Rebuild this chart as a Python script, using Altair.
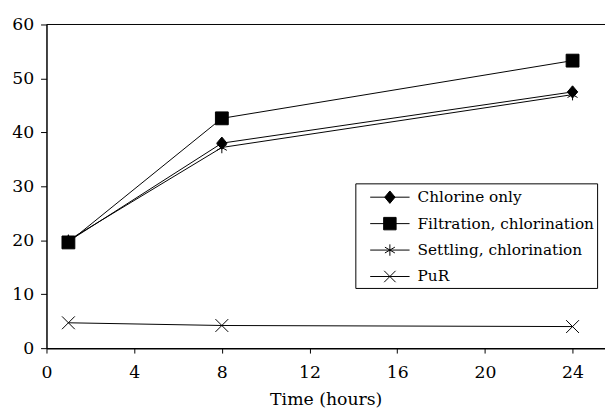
import altair as alt
import pandas as pd

# ---- data ----
series = ["Chlorine only", "Filtration, chlorination", "Settling, chlorination", "PuR"]
hours = [1, 8, 24]
chlorine_only = [19.8, 38.0, 47.5]
filtration_chlorination = [19.6, 42.6, 53.3]
settling_chlorination = [20.0, 37.2, 47.0]
pur = [4.7, 4.2, 4.0]
x_ticks = [0, 4, 8, 12, 16, 20, 24]
y_ticks = [0, 10, 20, 30, 40, 50, 60]

values = [chlorine_only, filtration_chlorination, settling_chlorination, pur]
rows = []
for s, vals in zip(series, values):
    for h, v in zip(hours, vals):
        rows.append({"series": s, "hours": h, "value": v})
df = pd.DataFrame(rows)

FONT = "DejaVu Serif"
FS = 17.5
FS_LEG = 15.5
W, H = 566, 328

plot_shapes = [
    "M0,-0.95L0.8,0L0,0.95L-0.8,0Z",
    "M-1,-1H1V1H-1Z",
    "M0,-0.9L0,0.9M-0.78,-0.45L0.78,0.45M-0.78,0.45L0.78,-0.45",
    "M-1,-1L1,1M-1,1L1,-1",
]
legend_shapes = [
    "M-1.9,0L1.9,0M0,-0.6L0.5,0L0,0.6L-0.5,0Z",
    "M-1.9,0L1.9,0M-0.6,-0.6H0.6V0.6H-0.6Z",
    "M-1.9,0L1.9,0M0,-0.55L0,0.55M-0.48,-0.28L0.48,0.28M-0.48,0.28L0.48,-0.28",
    "M-1.9,0L1.9,0M-0.55,-0.55L0.55,0.55M-0.55,0.55L0.55,-0.55",
]

x_enc = alt.X("hours:Q", scale=alt.Scale(domain=[0, 25.48], nice=False, zero=False),
              axis=alt.Axis(values=x_ticks, title="Time (hours)", grid=False,
                            tickSize=5, labelPadding=11, titlePadding=10,
                            domainWidth=1.5, tickWidth=1, labelFlush=False))
y_enc = alt.Y("value:Q", scale=alt.Scale(domain=[0, 60], nice=False),
              axis=alt.Axis(values=y_ticks, title=None, grid=False,
                            tickSize=6, labelPadding=7, domainWidth=1.5,
                            tickWidth=1))

base = alt.Chart(df)

lines = base.mark_line(color="black", strokeWidth=1).encode(
    x=x_enc, y=y_enc, detail="series:N"
)

points = base.mark_point(filled=True, fill="black", stroke="black",
                         strokeWidth=1, size=169, opacity=1).encode(
    x=x_enc, y=y_enc,
    shape=alt.Shape("series:N", scale=alt.Scale(domain=series, range=plot_shapes),
                    legend=None),
)

legend_layer = base.transform_filter("false").mark_point(
    filled=False, fill="black", stroke="black", strokeWidth=1, opacity=1
).encode(
    x=x_enc, y=y_enc,
    shape=alt.Shape("series:N", scale=alt.Scale(domain=series, range=legend_shapes),
                    legend=alt.Legend(
                        title=None, orient="none", legendX=313, legendY=161,
                        symbolSize=441, symbolStrokeWidth=1,
                        symbolOpacity=1, symbolOffset=21,
                        labelFont=FONT, labelFontSize=FS_LEG, labelColor="black",
                        labelOffset=17, rowPadding=6.8, padding=3,
                        strokeColor="black", fillColor="white",
                        labelLimit=400,
                    )),
)

top_line = alt.Chart(pd.DataFrame({"a": [0]})).mark_rule(
    color="black", strokeWidth=1
).encode(x=alt.value(0), x2=alt.value(W), y=alt.value(0))

chart = alt.layer(lines, points, legend_layer, top_line).resolve_scale(
    shape="independent"
).properties(
    width=W, height=H,
    padding={"left": 39, "top": 14, "right": 0, "bottom": 62},
    autosize=alt.AutoSizeParams(type="none"),
).configure_view(stroke=None).configure_axis(
    labelFont=FONT, titleFont=FONT, labelFontSize=FS, titleFontSize=FS,
    labelColor="black", titleColor="black", domainColor="black",
    tickColor="black", titleFontWeight="normal",
)

chart.save("out.html", embed_options={"renderer": "svg", "actions": False})
